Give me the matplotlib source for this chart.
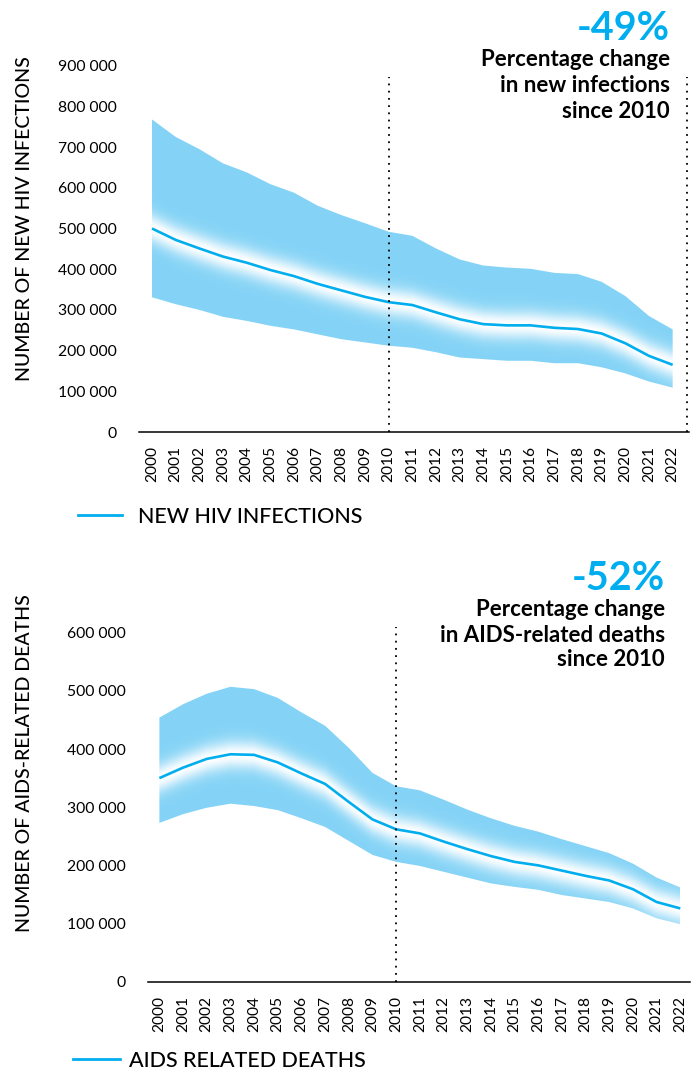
import numpy as np
import matplotlib
matplotlib.use("Agg")
import matplotlib.pyplot as plt
from matplotlib.lines import Line2D
from matplotlib.colors import to_rgb

years = list(range(2000, 2023))

hiv_central = [500000, 472000, 451000, 431000, 416000, 398000, 383000, 364000, 348000, 332000,
               319000, 312000, 294000, 277000, 265000, 262000, 262000, 256000, 253000, 242000,
               218000, 187000, 165000]
hiv_upper = [768000, 725000, 695000, 660000, 638000, 609000, 588000, 556000, 533000, 513000,
             492000, 482000, 451000, 424000, 409000, 404000, 401000, 391000, 388000, 369000,
             334000, 285000, 252000]
hiv_lower = [331000, 314000, 300000, 283000, 273000, 261000, 252000, 240000, 228000, 220000,
             212000, 207000, 196000, 183000, 179000, 175000, 175000, 169000, 169000, 159000,
             144000, 124000, 109000]

deaths_central = [350000, 368000, 383000, 391000, 390000, 377000, 358000, 340000, 309000, 279000,
                  262000, 255000, 241000, 228000, 216000, 206000, 200000, 191000, 182000, 174000,
                  159000, 137000, 126000]
deaths_upper = [454000, 477000, 495000, 507000, 503000, 488000, 463000, 440000, 402000, 359000,
                336000, 329000, 313000, 296000, 281000, 268000, 258000, 245000, 233000, 221000,
                203000, 179000, 162000]
deaths_lower = [273000, 288000, 299000, 306000, 302000, 295000, 281000, 266000, 242000, 218000,
                206000, 199000, 189000, 179000, 169000, 163000, 158000, 149000, 143000, 137000,
                126000, 109000, 99000]

hiv_ticks = list(range(0, 900001, 100000))
deaths_ticks = list(range(0, 600001, 100000))

BLUE = "#84d3f6"
LINE = "#00aeef"
FONT = ["Lato", "DejaVu Sans"]
plt.rcParams['font.family'] = FONT

W, H = 697, 1070
fig = plt.figure(figsize=(W / 100, H / 100), dpi=100)


def band_panel(ax, x, lo, mid, hi, xlim, ylim, ticks, glow_px=14):
    x = np.asarray(x, float)
    lo, mid, hi = (np.asarray(v, float) for v in (lo, mid, hi))
    ax.set_xlim(*xlim)
    ax.set_ylim(*ylim)
    nx, ny = 900, 900
    gx = np.linspace(x[0], x[-1], nx)
    gy = np.linspace(ylim[0], ylim[1], ny)
    XX, YY = np.meshgrid(gx, gy)
    c = np.interp(gx, x, mid)[None, :]
    ax_h_px = ax.get_position().height * H
    units_per_px = (ylim[1] - ylim[0]) / ax_h_px
    d = np.abs(YY - c) / units_per_px
    white = np.exp(-(d / glow_px) ** 2)
    b = np.array(to_rgb(BLUE))
    rgb = white[..., None] * np.ones(3) + (1 - white[..., None]) * b
    img = np.dstack([rgb, np.ones((ny, nx))])
    poly = ax.fill_between(x, lo, hi, facecolor="none", edgecolor="none")
    im = ax.imshow(img, origin="lower", extent=(x[0], x[-1], ylim[0], ylim[1]),
                   aspect="auto", interpolation="bilinear", zorder=1)
    im.set_clip_path(poly.get_paths()[0], ax.transData)
    ax.plot(x, mid, color=LINE, lw=1.9, zorder=3, solid_capstyle="butt")
    ax.set_xlim(*xlim)
    ax.set_ylim(*ylim)
    for s in ["top", "right", "left"]:
        ax.spines[s].set_visible(False)
    ax.spines["bottom"].set_linewidth(1.1)
    ax.set_xticks(years)
    ax.set_xticklabels([str(y) for y in years], rotation=90, fontsize=11.2)
    ax.set_yticks(ticks)
    ax.set_yticklabels([f"{t:,}".replace(",", " ") for t in ticks], fontsize=11.3)
    ax.tick_params(axis="both", length=0)
    ax.tick_params(axis="y", pad=16)
    ax.tick_params(axis="x", pad=10)


ax1 = fig.add_axes([139 / W, 1 - 432 / H, 550 / W, (432 - 65.7) / H])
band_panel(ax1, years, hiv_lower, hiv_central, hiv_upper, (1999.45, 2022.69), (0, 900000), hiv_ticks)
ax1.plot([2010, 2010], [0, 873000], color="black", lw=1.3, ls=(0, (1, 3)), zorder=4, clip_on=False)
ax1.plot([2022.62, 2022.62], [0, 873000], color="black", lw=1.3, ls=(0, (1, 3)), zorder=4, clip_on=False)

ax2 = fig.add_axes([148 / W, 1 - 981.7 / H, 542 / W, (981.7 - 632.7) / H])
band_panel(ax2, years, deaths_lower, deaths_central, deaths_upper, (1999.52, 2022.41), (0, 600000), deaths_ticks)
ax2.plot([2010, 2010], [0, 609000], color="black", lw=1.3, ls=(0, (1, 3)), zorder=4, clip_on=False)

fig.text(24.5 / W, 1 - 218.7 / H, "NUMBER OF NEW HIV INFECTIONS", rotation=90,
         ha="center", va="center", fontsize=14, fontweight="medium")
fig.text(24.5 / W, 1 - 763 / H, "NUMBER OF AIDS-RELATED DEATHS", rotation=90,
         ha="center", va="center", fontsize=14, fontweight="medium")

fig.text(670 / W, 1 - 29 / H, "-49%", color=LINE, ha="right", va="center",
         fontsize=28.5, fontweight="bold")
for i, t in enumerate(["Percentage change", "in new infections", "since 2010"]):
    fig.text(670 / W, 1 - (60 + 25.5 * i) / H, t, ha="right", va="center",
             fontsize=16, fontweight="bold")
fig.text(665 / W, 1 - 579 / H, "-52%", color=LINE, ha="right", va="center",
         fontsize=28.5, fontweight="bold")
for i, t in enumerate(["Percentage change", "in AIDS-related deaths", "since 2010"]):
    fig.text(665 / W, 1 - (610 + 25 * i) / H, t, ha="right", va="center",
             fontsize=16, fontweight="bold")

h1 = Line2D([], [], color=LINE, lw=2.0)
ax1.legend([h1], ["NEW HIV INFECTIONS"], loc="center left",
           bbox_to_anchor=(78 / W, 1 - 517 / H), bbox_transform=fig.transFigure,
           frameon=False, fontsize=15.5, handlelength=2.05, handletextpad=0.75,
           borderpad=0, borderaxespad=0, prop={"size": 15.5, "weight": "medium", "family": FONT})
h2 = Line2D([], [], color=LINE, lw=2.0)
ax2.legend([h2], ["AIDS RELATED DEATHS"], loc="center left",
           bbox_to_anchor=(73 / W, 1 - 1061 / H), bbox_transform=fig.transFigure,
           frameon=False, handlelength=2.2, handletextpad=0.38,
           borderpad=0, borderaxespad=0, prop={"size": 15.5, "weight": "medium", "family": FONT})

fig.savefig("out.png", dpi=100)
